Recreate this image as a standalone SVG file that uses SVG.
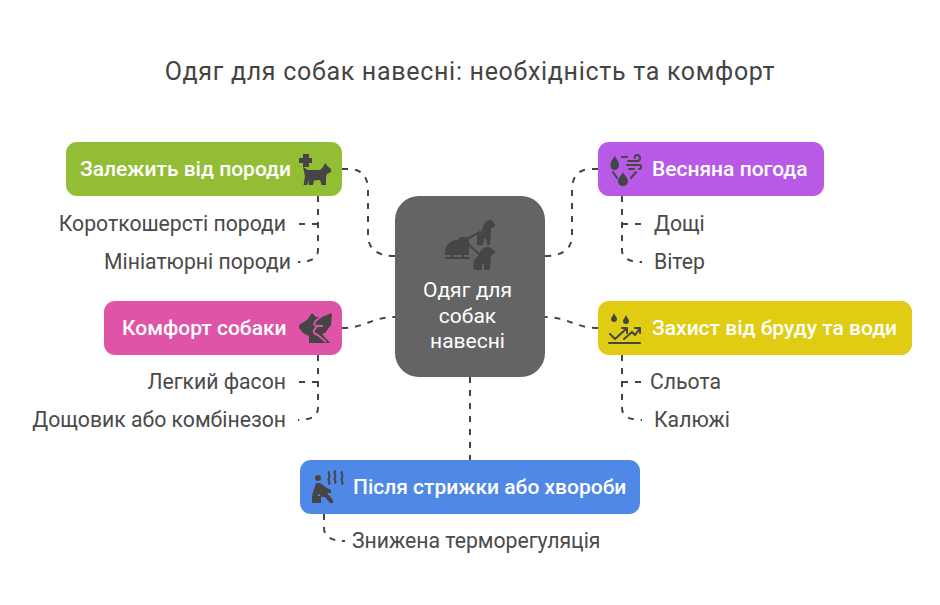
<svg xmlns="http://www.w3.org/2000/svg" width="940" height="605" viewBox="0 0 940 605">
<style>
text{font-family:Roboto,"Liberation Sans",sans-serif}
.title{font-size:25px;fill:#444;text-anchor:middle;letter-spacing:.7px}
.h{font-size:21px;font-weight:500;fill:#fff}
.c{font-size:21px;font-weight:400;fill:#fff;text-anchor:middle}
.l{font-size:21.2px;fill:#4a4a4a}
.r{text-anchor:end}
.i{fill:#454545}
.is{fill:none;stroke:#454545;stroke-width:2;stroke-linecap:round;stroke-linejoin:round}
.e{fill:none;stroke:#444;stroke-width:2;stroke-dasharray:6 7}
</style>
<rect width="940" height="605" fill="#fff"/>
<text class="title" x="470" y="80">Одяг для собак навесні: необхідність та комфорт</text>
<g id="connectors">
<path class="e" d="M342 169H348Q368 169 368 190V235Q368 256 395 256"/>
<path class="e" d="M598 169H592Q572 169 572 190V235Q572 256 545 256"/>
<path class="e" d="M342 328C365 328 372 317 395 317"/>
<path class="e" d="M598 328C575 328 568 317 545 317"/>
<path class="e" d="M470 377V460"/>
<path class="e" d="M318 196V250Q318 262 298 262"/>
<path class="e" d="M318 224H299"/>
<path class="e" d="M622 196V250Q622 262 642 262"/>
<path class="e" d="M622 224H641"/>
<path class="e" d="M318 355V408Q318 420 298 420"/>
<path class="e" d="M318 382H299"/>
<path class="e" d="M622 355V408Q622 420 642 420"/>
<path class="e" d="M622 382H641"/>
<path class="e" d="M324 514V528Q324 541 345 541"/>
</g>
<g id="center">
<rect x="395" y="196" width="150" height="181" rx="24" fill="#646464"/>
<path class="i" d="M445 253C445 244 451 240 458 240L460 237H466L469 241V255H445ZM445 257H470V259H445ZM451 254H453V258H451ZM462 254H464V258H462Z"/>
<path class="i" d="M481 232L484 224C485 221 488 220 491 220C493 221 494 223 495 225C495 227 493 228 491 228L490 245H487L486 239H484L483 245H477L477 235Z"/>
<path class="i" d="M478 256C480 250 484 247 488 247C491 247 493 249 495 252C495 254 493 255 491 255L490 270H484V264H482V270H474C472 264 474 259 478 256Z"/>
<path class="is" d="M467 239L480 232M467 243L480 255" stroke-width="1.600"/>
<text class="c" x="467.500" y="297">Одяг для</text>
<text class="c" x="467.500" y="323">собак</text>
<text class="c" x="467.500" y="348">навесні</text>
</g>
<g id="breed">
<rect x="66" y="142" width="276" height="54" rx="11" fill="#94bd36"/>
<text class="h" x="80" y="176">Залежить від породи</text>
<path class="i" d="M303 154H309V158H312V163H309V167H303V163H299V158H303Z"/>
<path class="i" d="M303 167L308 170H320L323 167L325 163L327 165.500L331 169V172L327 174L326 177V185H321.500L320 180L314 180.500L313 185H308.500V180L307 185H303.500L305 176Z"/>
</g>
<g id="weather">
<rect x="598" y="142" width="226" height="54" rx="11" fill="#b95ae6"/>
<text class="h" x="652" y="176">Весняна погода</text>
<path class="i" d="M615 156C616 159 619 161 619 165C619 168 617 170 614.500 170C612 170 610.500 168 610.500 165C610.500 161 613 159 615 156ZM623 172C625 176 628 178 628 181C628 184 626 186 623 186C620 186 618 184 618 181C618 178 621 176 623 172Z"/>
<path class="is" d="M622 157H627M628 161H637C641 161 641 155 637 155C635 155 634 157 635 158M627 165H639C642 165 642 169 639 169M629 169H634M613 172L617 178M636 172L631 178"/>
</g>
<g id="comfort">
<rect x="104" y="301" width="238" height="54" rx="11" fill="#e054a8"/>
<text class="h" x="122" y="335">Комфорт собаки</text>
<path class="i" d="M299 325L307 320L312 313L316 317H322L332 313L331 325L325 333L322 334L330 343H309V336L303 333L299 328Z"/>
<path d="M321 317C314 321 312 325 317 326H323M317 327C312 330 313 334 318 335L326 342" fill="none" stroke="#e054a8" stroke-width="1.800"/>
</g>
<g id="protect">
<rect x="598" y="301" width="314" height="54" rx="11" fill="#e0cc12"/>
<text class="h" x="652" y="335">Захист від бруду та води</text>
<path class="i" d="M614 313C615 316 617 317 617 319C617 321 616 322 614 322C612 322 611 321 611 319C611 317 613 316 614 313ZM626 315C627 318 629 319 629 321C629 323 628 324 626 324C624 324 623 323 623 321C623 319 625 318 626 315Z"/>
<path class="is" d="M610 334L615 339L627 328M622 328H627V333M624 339L632 332L635 335L640 328M635 328H640V333M609 343H640" stroke-width="1.600"/>
</g>
<g id="after">
<rect x="300" y="460" width="340" height="54" rx="11" fill="#4f88e6"/>
<text class="h" x="353" y="494">Після стрижки або хвороби</text>
<circle class="i" cx="318" cy="478" r="3"/>
<path class="i" d="M316 483L320 483L327 488L331 490L331 493L327 493L333 500V503H330L325 497H322L319 494L315 498L312 495ZM312 496H321V503H312Z"/>
<path class="is" d="M329 472C327 474 331 475 329 478S331 481 329 484M335 471C333 473 337 474 335 477S337 480 335 483M342 472C340 474 344 475 342 478S344 481 342 484"/>
</g>
<g id="l1"><text class="l r" x="286" y="231">Короткошерсті породи</text></g>
<g id="l2"><text class="l r" x="291" y="269">Мініатюрні породи</text></g>
<g id="l3"><text class="l" x="654" y="231">Дощі</text></g>
<g id="l4"><text class="l" x="654" y="269">Вітер</text></g>
<g id="l5"><text class="l r" x="286" y="389">Легкий фасон</text></g>
<g id="l6"><text class="l r" x="286" y="427">Дощовик або комбінезон</text></g>
<g id="l7"><text class="l" x="650" y="389">Сльота</text></g>
<g id="l8"><text class="l" x="654" y="427">Калюжі</text></g>
<g id="l9"><text class="l" x="352" y="548">Знижена терморегуляція</text></g>
</svg>
